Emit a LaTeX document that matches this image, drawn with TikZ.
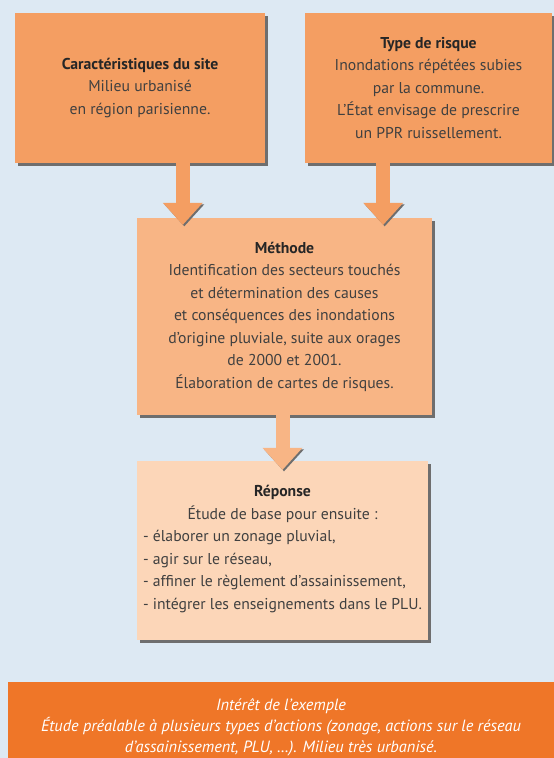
\documentclass[tikz,border=0pt]{standalone}
\usepackage{fontspec}
\setmainfont{PT Sans}
\usetikzlibrary{arrows.meta,shadows}

\definecolor{bgblue}{HTML}{DDE9F3}
\definecolor{topC}{HTML}{F49E62}
\definecolor{metC}{HTML}{F8B585}
\definecolor{repC}{HTML}{FCD6B8}
\definecolor{banC}{HTML}{EF7628}
\definecolor{shadowgray}{HTML}{6E6E6E}
\definecolor{textgray}{HTML}{404040}
\definecolor{titlegray}{HTML}{262626}

\begin{document}
\begin{tikzpicture}[
	x=1pt, y=-1pt,
	box/.style={rectangle, inner sep=0pt, align=center, text=textgray,
		font=\fontsize{15.7}{22.5}\selectfont,
		drop shadow={shadow xshift=3pt, shadow yshift=-3pt, fill=shadowgray, opacity=1}},
	banner/.style={rectangle, inner sep=0pt, align=center, fill=banC, text=white,
		font=\fontsize{16.3}{21}\selectfont\itshape},
	fatarrow/.style={line width=14pt, -{Triangle[width=40pt,length=22pt,line width=0pt]},
		preaction={draw=shadowgray, transform canvas={shift={(1.5pt,-1.5pt)}}}},
	]
	
	%-----------------------
	% Page and background
	%-----------------------
	\useasboundingbox (0,0) rectangle (554,758);
	\clip (0,0) rectangle (554,758);
	\fill[bgblue] (0,0) rectangle (554,758);
	
	%-----------------------
	% Row 1: site and risk
	%-----------------------
	\node[box, fill=topC, minimum width=250pt, minimum height=150pt] (site) at (140,88)
		{\textcolor{titlegray}{\textbf{Caractéristiques du site}}\\
		 Milieu urbanisé\\
		 en région parisienne.};
	\node[box, fill=topC, minimum width=247pt, minimum height=150pt] (risque) at (428.5,88)
		{\textcolor{titlegray}{\textbf{Type de risque}}\\
		 Inondations répétées subies\\
		 par la commune.\\
		 L'État envisage de prescrire\\
		 un PPR ruissellement.};
	
	%-----------------------
	% Row 2: method
	%-----------------------
	\node[box, fill=metC, minimum width=295pt, minimum height=197pt] (meth) at (284.5,316.5)
		{\textcolor{titlegray}{\textbf{Méthode}}\\
		 Identification des secteurs touchés\\
		 et détermination des causes\\
		 et conséquences des inondations\\
		 d'origine pluviale, suite aux orages\\
		 de 2000 et 2001.\\
		 Élaboration de cartes de risques.};
	
	%-----------------------
	% Row 3: answer
	%-----------------------
	\node[box, fill=repC, minimum width=291pt, minimum height=179pt] (rep) at (282.5,550.5)
		{\textcolor{titlegray}{\textbf{Réponse}}\\
		 Étude de base pour ensuite :\\
		 \begin{tabular}[t]{@{}l@{}}
		 - élaborer un zonage pluvial,\\
		 - agir sur le réseau,\\
		 - affiner le règlement d'assainissement,\\
		 - intégrer les enseignements dans le PLU.
		 \end{tabular}};
	
	%-----------------------
	% Bottom banner
	%-----------------------
	\node[banner, minimum width=546pt, minimum height=90pt] (interet) at (281,727)
		{Intérêt de l'exemple\\
		 Étude préalable à plusieurs types d'actions (zonage, actions sur le réseau\\
		 d'assainissement, PLU, \dots). Milieu très urbanisé.};
	
	%-----------------------
	% Connections (fat arrows)
	%-----------------------
	\coordinate (inL) at ([xshift=46pt,yshift=-7pt]meth.north west);
	\coordinate (inR) at ([xshift=-49pt,yshift=-7pt]meth.north east);
	\coordinate (inM) at ([yshift=-9pt]rep.north);
	
	\draw[fatarrow, color=topC] (site.south -| inL) -- (inL);
	\draw[fatarrow, color=topC] (risque.south -| inR) -- (inR);
	\draw[fatarrow, color=metC] (meth.south -| inM) -- (inM);
	
\end{tikzpicture}
\end{document}
